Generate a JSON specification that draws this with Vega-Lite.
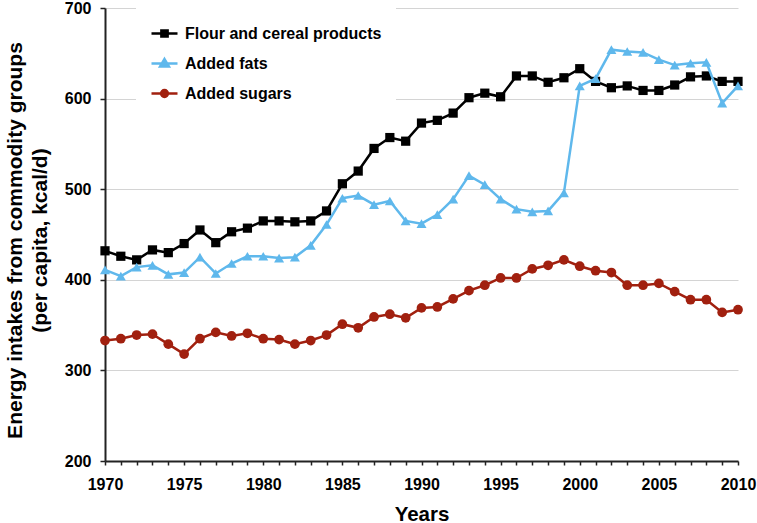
{
  "$schema": "https://vega.github.io/schema/vega-lite/v6.json",
  "width": 633,
  "height": 453,
  "autosize": {"type": "none"},
  "padding": {"left": 105, "top": 8, "right": 19, "bottom": 62},
  "background": "white",
  "config": {"view": {"stroke": null}, "font": "Liberation Sans"},
  "data": {"values": [
    {"year":1970,"series":"Flour and cereal products","value":432},
    {"year":1971,"series":"Flour and cereal products","value":426},
    {"year":1972,"series":"Flour and cereal products","value":422},
    {"year":1973,"series":"Flour and cereal products","value":433},
    {"year":1974,"series":"Flour and cereal products","value":430},
    {"year":1975,"series":"Flour and cereal products","value":440},
    {"year":1976,"series":"Flour and cereal products","value":455},
    {"year":1977,"series":"Flour and cereal products","value":441},
    {"year":1978,"series":"Flour and cereal products","value":453},
    {"year":1979,"series":"Flour and cereal products","value":457},
    {"year":1980,"series":"Flour and cereal products","value":465},
    {"year":1981,"series":"Flour and cereal products","value":465},
    {"year":1982,"series":"Flour and cereal products","value":464},
    {"year":1983,"series":"Flour and cereal products","value":465},
    {"year":1984,"series":"Flour and cereal products","value":476},
    {"year":1985,"series":"Flour and cereal products","value":506},
    {"year":1986,"series":"Flour and cereal products","value":520},
    {"year":1987,"series":"Flour and cereal products","value":545},
    {"year":1988,"series":"Flour and cereal products","value":557},
    {"year":1989,"series":"Flour and cereal products","value":553},
    {"year":1990,"series":"Flour and cereal products","value":573},
    {"year":1991,"series":"Flour and cereal products","value":576},
    {"year":1992,"series":"Flour and cereal products","value":584},
    {"year":1993,"series":"Flour and cereal products","value":601},
    {"year":1994,"series":"Flour and cereal products","value":606},
    {"year":1995,"series":"Flour and cereal products","value":602},
    {"year":1996,"series":"Flour and cereal products","value":625},
    {"year":1997,"series":"Flour and cereal products","value":625},
    {"year":1998,"series":"Flour and cereal products","value":618},
    {"year":1999,"series":"Flour and cereal products","value":623},
    {"year":2000,"series":"Flour and cereal products","value":633},
    {"year":2001,"series":"Flour and cereal products","value":619},
    {"year":2002,"series":"Flour and cereal products","value":612},
    {"year":2003,"series":"Flour and cereal products","value":614},
    {"year":2004,"series":"Flour and cereal products","value":609},
    {"year":2005,"series":"Flour and cereal products","value":609},
    {"year":2006,"series":"Flour and cereal products","value":615},
    {"year":2007,"series":"Flour and cereal products","value":624},
    {"year":2008,"series":"Flour and cereal products","value":625},
    {"year":2009,"series":"Flour and cereal products","value":619},
    {"year":2010,"series":"Flour and cereal products","value":619},
    {"year":1970,"series":"Added fats","value":411},
    {"year":1971,"series":"Added fats","value":404},
    {"year":1972,"series":"Added fats","value":414},
    {"year":1973,"series":"Added fats","value":416},
    {"year":1974,"series":"Added fats","value":406},
    {"year":1975,"series":"Added fats","value":408},
    {"year":1976,"series":"Added fats","value":425},
    {"year":1977,"series":"Added fats","value":407},
    {"year":1978,"series":"Added fats","value":418},
    {"year":1979,"series":"Added fats","value":426},
    {"year":1980,"series":"Added fats","value":426},
    {"year":1981,"series":"Added fats","value":424},
    {"year":1982,"series":"Added fats","value":425},
    {"year":1983,"series":"Added fats","value":438},
    {"year":1984,"series":"Added fats","value":461},
    {"year":1985,"series":"Added fats","value":490},
    {"year":1986,"series":"Added fats","value":493},
    {"year":1987,"series":"Added fats","value":483},
    {"year":1988,"series":"Added fats","value":487},
    {"year":1989,"series":"Added fats","value":465},
    {"year":1990,"series":"Added fats","value":462},
    {"year":1991,"series":"Added fats","value":472},
    {"year":1992,"series":"Added fats","value":489},
    {"year":1993,"series":"Added fats","value":515},
    {"year":1994,"series":"Added fats","value":505},
    {"year":1995,"series":"Added fats","value":489},
    {"year":1996,"series":"Added fats","value":478},
    {"year":1997,"series":"Added fats","value":475},
    {"year":1998,"series":"Added fats","value":476},
    {"year":1999,"series":"Added fats","value":496},
    {"year":2000,"series":"Added fats","value":614},
    {"year":2001,"series":"Added fats","value":622},
    {"year":2002,"series":"Added fats","value":654},
    {"year":2003,"series":"Added fats","value":652},
    {"year":2004,"series":"Added fats","value":651},
    {"year":2005,"series":"Added fats","value":643},
    {"year":2006,"series":"Added fats","value":637},
    {"year":2007,"series":"Added fats","value":639},
    {"year":2008,"series":"Added fats","value":640},
    {"year":2009,"series":"Added fats","value":595},
    {"year":2010,"series":"Added fats","value":614},
    {"year":1970,"series":"Added sugars","value":333},
    {"year":1971,"series":"Added sugars","value":335},
    {"year":1972,"series":"Added sugars","value":339},
    {"year":1973,"series":"Added sugars","value":340},
    {"year":1974,"series":"Added sugars","value":329},
    {"year":1975,"series":"Added sugars","value":318},
    {"year":1976,"series":"Added sugars","value":335},
    {"year":1977,"series":"Added sugars","value":342},
    {"year":1978,"series":"Added sugars","value":338},
    {"year":1979,"series":"Added sugars","value":341},
    {"year":1980,"series":"Added sugars","value":335},
    {"year":1981,"series":"Added sugars","value":334},
    {"year":1982,"series":"Added sugars","value":329},
    {"year":1983,"series":"Added sugars","value":333},
    {"year":1984,"series":"Added sugars","value":339},
    {"year":1985,"series":"Added sugars","value":351},
    {"year":1986,"series":"Added sugars","value":347},
    {"year":1987,"series":"Added sugars","value":359},
    {"year":1988,"series":"Added sugars","value":362},
    {"year":1989,"series":"Added sugars","value":358},
    {"year":1990,"series":"Added sugars","value":369},
    {"year":1991,"series":"Added sugars","value":370},
    {"year":1992,"series":"Added sugars","value":379},
    {"year":1993,"series":"Added sugars","value":388},
    {"year":1994,"series":"Added sugars","value":394},
    {"year":1995,"series":"Added sugars","value":402},
    {"year":1996,"series":"Added sugars","value":402},
    {"year":1997,"series":"Added sugars","value":412},
    {"year":1998,"series":"Added sugars","value":416},
    {"year":1999,"series":"Added sugars","value":422},
    {"year":2000,"series":"Added sugars","value":415},
    {"year":2001,"series":"Added sugars","value":410},
    {"year":2002,"series":"Added sugars","value":408},
    {"year":2003,"series":"Added sugars","value":394},
    {"year":2004,"series":"Added sugars","value":394},
    {"year":2005,"series":"Added sugars","value":396},
    {"year":2006,"series":"Added sugars","value":387},
    {"year":2007,"series":"Added sugars","value":378},
    {"year":2008,"series":"Added sugars","value":378},
    {"year":2009,"series":"Added sugars","value":364},
    {"year":2010,"series":"Added sugars","value":367}
  ]},
  "encoding": {
    "x": {
      "field": "year", "type": "quantitative",
      "scale": {"domain": [1970, 2010], "nice": false, "zero": false},
      "axis": {
        "title": "Years", "titleFontSize": 20.5, "titleFontWeight": "bold", "titleColor": "black", "titlePadding": 12,
        "tickCount": 40, "format": "d",
        "labelExpr": "datum.value % 5 === 0 ? datum.label : ''",
        "labelFontSize": 16, "labelFontWeight": "bold", "labelColor": "black", "labelPadding": 11,
        "labelFlush": false, "labelOverlap": false, "labelBound": false,
        "tickSize": 4, "tickColor": "#222", "tickWidth": 1.5,
        "domainColor": "#222", "domainWidth": 2, "grid": false
      }
    },
    "y": {
      "field": "value", "type": "quantitative",
      "scale": {"domain": [200, 700], "nice": false, "zero": false},
      "axis": {
        "title": ["Energy intakes from commodity groups", "(per capita, kcal/d)"],
        "titleFontSize": 21, "titleFontWeight": "bold", "titleColor": "black", "titleLineHeight": 25, "titlePadding": 14,
        "titleY": 232,
        "values": [200, 300, 400, 500, 600, 700],
        "labelFontSize": 16, "labelFontWeight": "bold", "labelColor": "black", "labelPadding": 9,
        "tickSize": 5, "tickColor": "#222", "tickWidth": 1.5,
        "domainColor": "#222", "domainWidth": 2,
        "grid": true, "gridColor": "#d4d4d4", "gridWidth": 1
      }
    }
  },
  "layer": [
    {
      "transform": [{"filter": "datum.series === 'Flour and cereal products'"}],
      "mark": {"type": "line", "strokeWidth": 2.5, "color": "#000000", "point": {"filled": true, "opacity": 1, "size": 85, "shape": "square", "color": "#000000"}}
    },
    {
      "transform": [{"filter": "datum.series === 'Added fats'"}],
      "mark": {"type": "line", "strokeWidth": 2.5, "color": "#5fb8ec", "point": {"filled": true, "opacity": 1, "size": 100, "shape": "triangle-up", "color": "#5fb8ec"}}
    },
    {
      "transform": [{"filter": "datum.series === 'Added sugars'"}],
      "mark": {"type": "line", "strokeWidth": 2.5, "color": "#a1200f", "point": {"filled": true, "opacity": 1, "size": 95, "shape": "circle", "color": "#a1200f"}}
    },
    {
      "mark": {"type": "point", "filled": true, "opacity": 0, "strokeWidth": 2.5},
      "encoding": {
        "color": {
          "field": "series", "type": "nominal",
          "scale": {"domain": ["Flour and cereal products", "Added fats", "Added sugars"], "range": ["#000000", "#5fb8ec", "#a1200f"]},
          "legend": {
            "title": null, "orient": "none", "legendX": 31, "legendY": -3,
            "padding": 14, "fillColor": "white", "strokeColor": null,
            "symbolSize": 676, "symbolOpacity": 1, "symbolStrokeWidth": 2.5,
            "labelFontSize": 16, "labelFontWeight": "bold", "labelColor": "black",
            "labelOffset": 6, "rowPadding": 7, "labelLimit": 400
          }
        },
        "stroke": {
          "field": "series", "type": "nominal",
          "scale": {"domain": ["Flour and cereal products", "Added fats", "Added sugars"], "range": ["#000000", "#5fb8ec", "#a1200f"]},
          "legend": {
            "title": null, "orient": "none", "legendX": 31, "legendY": -3,
            "padding": 14, "fillColor": "white", "strokeColor": null,
            "symbolSize": 676, "symbolOpacity": 1, "symbolStrokeWidth": 2.5,
            "labelFontSize": 16, "labelFontWeight": "bold", "labelColor": "black",
            "labelOffset": 6, "rowPadding": 7, "labelLimit": 400
          }
        },
        "shape": {
          "field": "series", "type": "nominal",
          "scale": {"domain": ["Flour and cereal products", "Added fats", "Added sugars"], "range": ["M-1,0H1M-0.24,-0.24H0.24V0.24H-0.24Z", "M-1,0H1M0,-0.34L0.34,0.24L-0.34,0.24Z", "M-1,0H1M-0.26,0A0.26,0.26 0 1,0 0.26,0A0.26,0.26 0 1,0 -0.26,0Z"]},
          "legend": {
            "title": null, "orient": "none", "legendX": 31, "legendY": -3,
            "padding": 14, "fillColor": "white", "strokeColor": null,
            "symbolSize": 676, "symbolOpacity": 1, "symbolStrokeWidth": 2.5,
            "labelFontSize": 16, "labelFontWeight": "bold", "labelColor": "black",
            "labelOffset": 6, "rowPadding": 7, "labelLimit": 400
          }
        }
      }
    }
  ]
}
